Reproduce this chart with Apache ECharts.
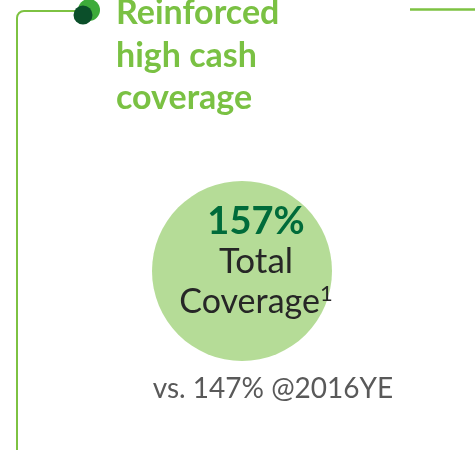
<!DOCTYPE html>
<html>
<head>
<meta charset="utf-8">
<script src="https://cdn.jsdelivr.net/npm/echarts@6/dist/echarts.min.js"></script>
<style>
html,body{margin:0;padding:0;background:#fff;}
#chart{width:475px;height:450px;}
</style>
</head>
<body>
<div id="chart"></div>
<script>
var titleLines = ['Reinforced', 'high cash', 'coverage'];
var coverageValue = [157];
var coverageLabel = ['Total', 'Coverage', '1'];
var priorValue = [147];
var priorLabel = ['vs.', '@2016YE'];

var FONT = 'Lato, "Open Sans", sans-serif';
var chart = echarts.init(document.getElementById('chart'), null, {renderer: 'canvas'});

var lineStyle = {fill: null, stroke: '#7dc242', lineWidth: 2};
var graphics = [
  {type: 'polyline', shape: {points: [[17, 450], [17, 18]]}, style: lineStyle},
  {type: 'arc', shape: {cx: 24, cy: 18, r: 7, startAngle: Math.PI, endAngle: Math.PI * 1.5, clockwise: true}, style: lineStyle},
  {type: 'polyline', shape: {points: [[24, 11], [80, 11]]}, style: lineStyle},
  {type: 'line', shape: {x1: 410, y1: 9.5, x2: 475, y2: 9.5},
   style: {stroke: '#7dc242', lineWidth: 2.5}},
  {type: 'circle', shape: {cx: 89, cy: 10, r: 11}, style: {fill: '#3dab3a'}},
  {type: 'circle', shape: {cx: 83, cy: 15, r: 9.5}, style: {fill: '#0b4f2a'}}
];
var titleY = [13, 56, 98];
titleLines.forEach(function (t, i) {
  graphics.push({type: 'text', x: 116, y: titleY[i],
    style: {text: t, fill: '#7ac143', font: 'bold 34px ' + FONT, verticalAlign: 'middle', align: 'left'}});
});
var TX = 256;
graphics.push({type: 'text', x: TX, y: 222, z: 10,
  style: {text: coverageValue[0] + '%', fill: '#006b3a', font: 'bold 38px ' + FONT, align: 'center', verticalAlign: 'middle'}});
graphics.push({type: 'text', x: TX, y: 262, z: 10,
  style: {text: coverageLabel[0], fill: '#262626', font: '35px ' + FONT, align: 'center', verticalAlign: 'middle'}});
graphics.push({type: 'text', x: TX, y: 302, z: 10,
  style: {text: '{a|' + coverageLabel[1] + '}{s|' + coverageLabel[2] + '}', align: 'center', verticalAlign: 'middle',
    rich: {a: {font: '34px ' + FONT, fill: '#262626', lineHeight: 38},
           s: {font: '22px ' + FONT, fill: '#262626', verticalAlign: 'top', lineHeight: 30}}}});
graphics.push({type: 'text', x: 273, y: 389, z: 10,
  style: {text: priorLabel[0] + ' ' + priorValue[0] + '% ' + priorLabel[1], fill: '#595959', font: '28px ' + FONT, align: 'center', verticalAlign: 'middle'}});

chart.setOption({
  animation: false,
  series: [{
    type: 'pie',
    center: [242, 271],
    radius: [0, 90],
    silent: true,
    label: {show: false},
    labelLine: {show: false},
    itemStyle: {color: '#b5dc97'},
    data: [{value: coverageValue[0], name: 'Total Coverage'}]
  }],
  graphic: graphics
});
</script>
</body>
</html>
